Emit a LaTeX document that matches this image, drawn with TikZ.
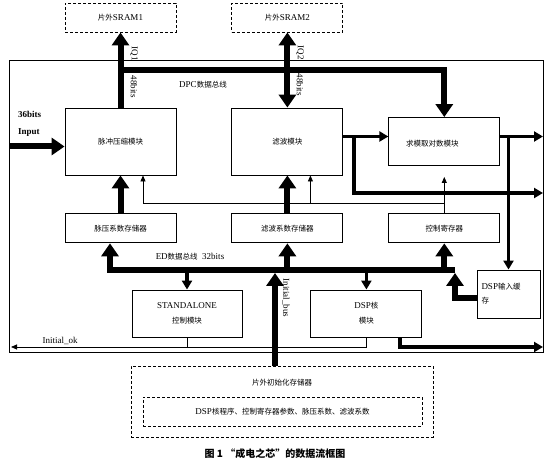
\documentclass[tikz,border=0pt]{standalone}
\usepackage{fontspec}
\setmainfont{Liberation Serif}[Scale=1.2]
\newfontfamily\cjk{Noto Sans CJK SC}
\usetikzlibrary{arrows.meta,positioning,calc}

\begin{document}
\begin{tikzpicture}[
    x=1pt, y=-1pt,
    font=\fontsize{7.5}{9}\selectfont,
    box/.style={draw, line width=0.9pt, minimum width=111pt, minimum height=29pt, inner sep=0pt, align=center},
    core/.style={box, minimum height=67pt},
    ext/.style={box, dash pattern=on 3pt off 2pt},
    bus/.style={line width=6pt},
    bigtip/.style={-{Triangle[width=17pt,length=13pt]}},
    bigboth/.style={{Triangle[width=17pt,length=13pt]}-{Triangle[width=17pt,length=13pt]}},
    mid/.style={line width=3.2pt, -{Triangle[width=10pt,length=9pt]}},
    wire/.style={line width=0.8pt},
    ctl/.style={wire, -{Triangle[width=5pt,length=6pt]}},
    lbl/.style={inner sep=1pt},
    vlbl/.style={inner sep=1pt, rotate=-90}
  ]
    \useasboundingbox (0,0) rectangle (550,462);

    \node[draw, line width=1pt, minimum width=534pt, minimum height=292pt, inner sep=0pt, outer sep=0pt] (chip) at (276,207) {};

    \node[ext] (sram1) at (120.5,17.5) {{\cjk 片外}SRAM1};
    \node[ext, right=55pt of sram1] (sram2) {{\cjk 片外}SRAM2};

    \node[core] (pulse) at (120.5,141.5) {\cjk 脉冲压缩模块};
    \node[core, right=55pt of pulse] (filter) {\cjk 滤波模块};
    \node[box, minimum height=48pt, right=45pt of filter] (logmod) {\raisebox{-11pt}{\cjk 求模取对数模块}\hspace*{24pt}};

    \node[box, below=38pt of pulse] (pcoef) {\cjk 脉压系数存储器};
    \node[box, below=38pt of filter] (fcoef) {\cjk 滤波系数存储器};
    \node[box, right=45pt of fcoef] (ctrlreg) {\cjk 控制寄存器};

    \node[box, minimum width=110pt, minimum height=47pt] (standalone) at (187,313.5) {STANDALONE\\[6pt]{\cjk 控制模块}};
    \node[box, minimum height=47pt, right=68pt of standalone] (dspcore) {DSP{\cjk 核}\\[6pt]{\cjk 模块}};
    \node[box, minimum width=63pt, minimum height=48pt, text width=54pt, align=left] (dspbuf) at (508.5,294) {DSP{\cjk 输入缓}\\[5pt]{\cjk 存}};

    \node[ext, minimum width=302pt, minimum height=71pt] (initmem) at (282,401.5) {};
    \node[lbl] (initname) at (282,383) {\cjk 片外初始化存储器};
    \node[ext, minimum width=279pt, minimum height=29pt] (initlist) at (282.5,411.5) {DSP{\cjk 核程序、控制寄存器参数、脉压系数、滤波系数}};

    \node (caption) at (275,454) {\fontsize{10}{12}\selectfont\cjk\bfseries 图 1 “成电之芯”的数据流框图};

    \node[lbl, anchor=west] (bits36) at (17,114) {\bfseries 36bits};
    \node[lbl, anchor=west] (inlbl) at (17,133) {\bfseries Input};
    \node[vlbl] (iq1) at (134,54) {IQ1};
    \node[vlbl] (w1) at (134,87) {48bits};
    \node[vlbl] (iq2) at (300,53) {IQ2};
    \node[vlbl] (w2) at (300,85) {48bits};
    \node[lbl] (dpclbl) at (203,85) {DPC{\cjk 数据总线}};
    \node[lbl] (edlbl) at (190,257) {ED{\cjk 数据总线}\ \ 32bits};
    \node[vlbl] (iblbl) at (286,298) {Initial\_bus};
    \node[lbl] (oklbl) at (60,341) {Initial\_ok};

    \coordinate (dpc) at (0,70);
    \coordinate (in) at (10,146.5);
    \coordinate (fout) at ([yshift=5pt]filter.east);
    \coordinate (rail) at (354,193);
    \coordinate (cj) at ([yshift=10pt]ctrlreg.north);
    \coordinate (pin1) at ([xshift=22.5pt]pulse.south);
    \coordinate (pin2) at ([xshift=23pt]filter.south);
    \coordinate (ed) at (455,270);
    \coordinate (ped) at ([xshift=-10.5pt]pcoef.south);
    \coordinate (bo) at ([yshift=-4pt]dspbuf.west);
    \coordinate (ib) at ([xshift=-7pt]initmem.north);
    \coordinate (ok) at (11,347);
    \coordinate (dco) at ([xshift=33.5pt]dspcore.south);

    \draw[bus, bigtip] (pulse.north) -- (sram1.south);
    \draw[bus, bigboth] (filter.north) -- (sram2.south);
    \draw[bus, bigtip] (pulse.north |- dpc) -| (logmod.north);
    \draw[bus, bigtip] (in) -- (in -| pulse.west);

    \draw[mid] (fout) -- (fout -| logmod.west);
    \draw[mid] (fout -| rail) |- (rail -| chip.east);
    \draw[mid] (fout -| logmod.east) -- (fout -| chip.east);
    \draw[mid] (fout -| dspbuf.north) -- (dspbuf.north);

    \draw[ctl, shorten >=11pt] (ctrlreg.north) -- (logmod.south);
    \draw[ctl] (cj) -| (pin1);
    \draw[ctl] (cj -| pin2) -- (pin2);

    \draw[bus, bigtip] (pcoef.north) -- (pulse.south);
    \draw[bus, bigtip] (fcoef.north) -- (filter.south);

    \draw[bus, bigtip] (ed) -| (ped);
    \draw[bus, bigtip] (fcoef.south |- ed) -- (fcoef.south);
    \draw[bus, bigtip] (ctrlreg.south |- ed) -- (ctrlreg.south);
    \draw[mid] (standalone.north |- ed) -- (standalone.north);
    \draw[mid] (dspcore.north |- ed) -- (dspcore.north);
    \draw[bus, bigtip, shorten >=3pt] (bo) -| (ed);
    \draw[bus, bigtip, shorten >=3pt] (ib) -- (ib |- ed);

    \draw[ctl] (standalone.south) |- (ok);
    \draw[wire] (dspcore.south) |- (standalone.south |- ok);
    \draw[mid] (dco) |- (ok -| chip.east);
\end{tikzpicture}
\end{document}
